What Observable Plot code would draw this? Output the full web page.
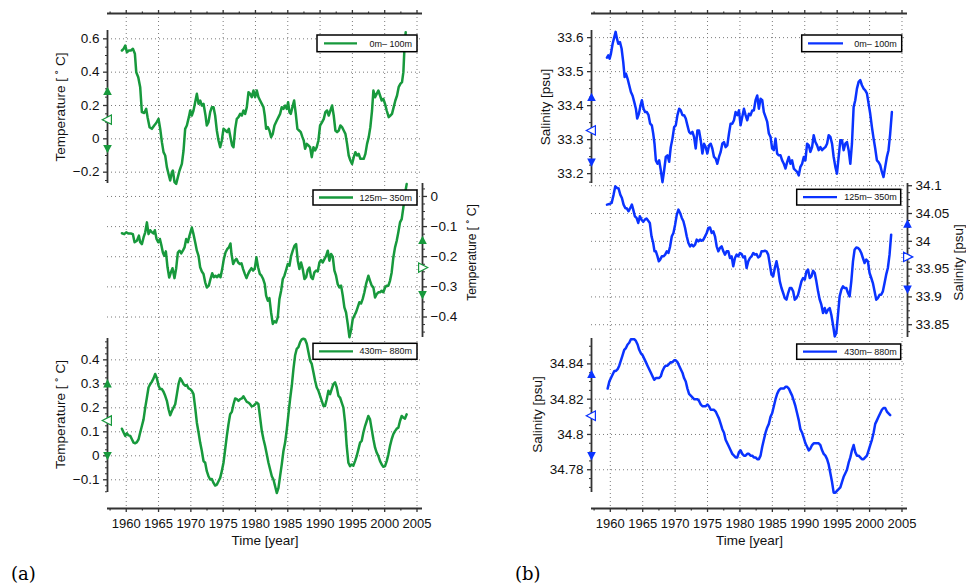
<!DOCTYPE html>
<html><head><meta charset="utf-8">
<script src="https://cdn.jsdelivr.net/npm/d3@7"></script>
<script src="https://cdn.jsdelivr.net/npm/@observablehq/plot@0.6"></script>
<style>
html,body{margin:0;padding:0;background:#fff;}
#fig{position:relative;width:966px;height:587px;overflow:hidden;background:#fff;font-family:"Liberation Sans",Arial,sans-serif;}
.tag{position:absolute;font-family:"DejaVu Serif","Liberation Serif",serif;font-size:18px;line-height:21px;color:#000;}
</style></head>
<body><div id="fig"></div>
<script>
// ---------------- data ----------------
const yearTicks = [1960,1965,1970,1975,1980,1985,1990,1995,2000,2005];
const yearMinor = [1957.5,1962.5,1967.5,1972.5,1977.5,1982.5,1987.5,1992.5,1997.5,2002.5];

const tempTicks0 = [-0.2,0,0.2,0.4,0.6];
const tempTicks1 = [-0.4,-0.3,-0.2,-0.1,0];
const tempTicks2 = [-0.1,0,0.1,0.2,0.3,0.4];
const salTicks0 = [33.2,33.3,33.4,33.5,33.6];
const salTicks1 = [33.85,33.9,33.95,34,34.05,34.1];
const salTicks2 = [34.78,34.8,34.82,34.84];

// markers: [mean+std, mean, mean-std]
const tempStats0 = [0.284,0.115,-0.058];
const tempStats1 = [-0.146,-0.236,-0.326];
const tempStats2 = [0.30,0.147,0.001];
const salStats0 = [33.424,33.327,33.234];
const salStats1 = [34.031,33.972,33.914];
const salStats2 = [34.834,34.8106,34.788];

const legendLabels = ["0m\u2013 100m","125m\u2013 350m","430m\u2013 880m"];

// Temperature 0-100 m
const temp0 = [[1959.33,0.53],[1959.59,0.54],[1959.85,0.56],[1960.10,0.52],[1960.41,0.53],[1960.72,0.53],[1961.03,0.54],[1961.34,0.51],[1961.55,0.40],[1961.86,0.37],[1962.16,0.31],[1962.42,0.16],[1962.78,0.155],[1963.09,0.18],[1963.30,0.13],[1963.61,0.07],[1963.97,0.06],[1964.33,0.08],[1964.64,0.095],[1965.00,0.12],[1965.26,0.06],[1965.52,-0.02],[1965.77,-0.08],[1966.03,-0.10],[1966.29,-0.17],[1966.60,-0.22],[1966.80,-0.25],[1967.06,-0.20],[1967.22,-0.19],[1967.47,-0.26],[1967.73,-0.27],[1967.99,-0.23],[1968.25,-0.19],[1968.61,-0.15],[1968.87,-0.07],[1969.12,0.06],[1969.38,0.08],[1969.69,0.13],[1969.90,0.17],[1970.15,0.14],[1970.41,0.17],[1970.67,0.22],[1970.93,0.27],[1971.19,0.21],[1971.44,0.23],[1971.70,0.20],[1971.96,0.21],[1972.27,0.14],[1972.47,0.08],[1972.73,0.10],[1972.99,0.16],[1973.25,0.19],[1973.51,0.19],[1973.76,0.14],[1974.02,0.05],[1974.28,-0.01],[1974.54,-0.05],[1974.79,-0.01],[1975.05,0.06],[1975.36,0.05],[1975.62,0.04],[1975.88,0.06],[1976.13,0.01],[1976.39,-0.04],[1976.60,-0.05],[1976.86,0.06],[1977.11,0.12],[1977.37,0.13],[1977.63,0.15],[1977.89,0.14],[1978.14,0.17],[1978.40,0.15],[1978.66,0.19],[1978.92,0.28],[1979.18,0.27],[1979.43,0.25],[1979.69,0.29],[1979.95,0.25],[1980.21,0.29],[1980.46,0.25],[1980.72,0.23],[1980.98,0.21],[1981.24,0.19],[1981.44,0.14],[1981.65,0.06],[1981.91,0.07],[1982.16,0.05],[1982.42,0.01],[1982.68,0.03],[1982.94,0.08],[1983.30,0.11],[1983.56,0.13],[1983.81,0.15],[1984.07,0.19],[1984.33,0.18],[1984.59,0.20],[1984.85,0.18],[1985.05,0.22],[1985.26,0.16],[1985.46,0.15],[1985.72,0.19],[1985.98,0.23],[1986.24,0.15],[1986.49,0.06],[1986.75,0.05],[1987.01,0.04],[1987.27,0.01],[1987.47,-0.01],[1987.68,-0.06],[1987.94,-0.03],[1988.20,-0.04],[1988.45,-0.05],[1988.71,-0.11],[1988.97,-0.05],[1989.23,-0.07],[1989.48,-0.05],[1989.74,-0.01],[1990.00,0.08],[1990.31,0.10],[1990.57,0.12],[1990.82,0.16],[1991.08,0.17],[1991.34,0.14],[1991.60,0.17],[1991.86,0.20],[1992.11,0.14],[1992.37,0.05],[1992.63,0.04],[1992.89,0.05],[1993.14,0.08],[1993.40,0.07],[1993.66,0.05],[1993.92,0.03],[1994.18,-0.03],[1994.43,-0.10],[1994.69,-0.13],[1994.95,-0.15],[1995.21,-0.11],[1995.46,-0.08],[1995.72,-0.10],[1995.98,-0.09],[1996.24,-0.12],[1996.49,-0.12],[1996.75,-0.12],[1997.01,-0.09],[1997.27,-0.03],[1997.53,0.01],[1997.78,0.07],[1998.04,0.17],[1998.25,0.29],[1998.51,0.25],[1998.76,0.27],[1999.02,0.29],[1999.28,0.26],[1999.54,0.23],[1999.79,0.24],[2000.05,0.21],[2000.31,0.17],[2000.62,0.13],[2000.88,0.14],[2001.13,0.15],[2001.39,0.19],[2001.65,0.23],[2001.91,0.26],[2002.16,0.31],[2002.42,0.33],[2002.68,0.34],[2002.89,0.40],[2003.04,0.53],[2003.25,0.64]];

// Temperature 125-350 m
const temp1 = [[1959.33,-0.122],[1959.69,-0.125],[1960.00,-0.119],[1960.36,-0.123],[1960.72,-0.123],[1961.03,-0.125],[1961.29,-0.152],[1961.65,-0.147],[1961.96,-0.130],[1962.16,-0.152],[1962.42,-0.158],[1962.68,-0.136],[1962.94,-0.119],[1963.20,-0.086],[1963.45,-0.125],[1963.71,-0.112],[1963.97,-0.119],[1964.23,-0.123],[1964.43,-0.112],[1964.69,-0.141],[1964.95,-0.152],[1965.21,-0.141],[1965.46,-0.164],[1965.67,-0.186],[1965.88,-0.197],[1966.13,-0.182],[1966.39,-0.235],[1966.65,-0.269],[1966.91,-0.252],[1967.16,-0.238],[1967.47,-0.271],[1967.73,-0.238],[1967.99,-0.186],[1968.25,-0.180],[1968.51,-0.189],[1968.76,-0.180],[1969.02,-0.169],[1969.28,-0.141],[1969.54,-0.152],[1969.79,-0.130],[1970.15,-0.103],[1970.41,-0.125],[1970.67,-0.152],[1970.93,-0.180],[1971.19,-0.197],[1971.44,-0.235],[1971.70,-0.249],[1971.96,-0.257],[1972.22,-0.285],[1972.47,-0.302],[1972.78,-0.296],[1973.04,-0.274],[1973.30,-0.255],[1973.56,-0.268],[1973.81,-0.263],[1974.07,-0.268],[1974.33,-0.260],[1974.59,-0.268],[1974.85,-0.241],[1975.10,-0.208],[1975.36,-0.186],[1975.62,-0.175],[1975.88,-0.169],[1976.13,-0.156],[1976.29,-0.191],[1976.55,-0.224],[1976.80,-0.213],[1977.06,-0.207],[1977.32,-0.219],[1977.58,-0.224],[1977.84,-0.222],[1978.09,-0.241],[1978.35,-0.257],[1978.61,-0.271],[1978.87,-0.257],[1979.12,-0.246],[1979.38,-0.238],[1979.64,-0.246],[1979.90,-0.238],[1980.15,-0.202],[1980.41,-0.235],[1980.67,-0.257],[1980.93,-0.263],[1981.19,-0.274],[1981.44,-0.291],[1981.65,-0.329],[1981.91,-0.346],[1982.16,-0.337],[1982.42,-0.385],[1982.68,-0.423],[1982.94,-0.414],[1983.20,-0.418],[1983.45,-0.401],[1983.71,-0.340],[1983.97,-0.313],[1984.23,-0.274],[1984.48,-0.263],[1984.74,-0.244],[1985.00,-0.224],[1985.26,-0.230],[1985.52,-0.197],[1985.77,-0.180],[1986.03,-0.164],[1986.29,-0.158],[1986.55,-0.213],[1986.80,-0.241],[1987.06,-0.219],[1987.32,-0.241],[1987.58,-0.274],[1987.84,-0.268],[1988.09,-0.244],[1988.35,-0.236],[1988.61,-0.268],[1988.87,-0.274],[1989.12,-0.252],[1989.38,-0.246],[1989.64,-0.249],[1989.90,-0.219],[1990.15,-0.211],[1990.41,-0.219],[1990.67,-0.208],[1990.93,-0.197],[1991.19,-0.180],[1991.44,-0.213],[1991.70,-0.191],[1991.96,-0.200],[1992.22,-0.246],[1992.47,-0.263],[1992.73,-0.291],[1992.99,-0.302],[1993.25,-0.296],[1993.51,-0.329],[1993.76,-0.368],[1994.02,-0.385],[1994.28,-0.423],[1994.54,-0.467],[1994.79,-0.445],[1995.05,-0.407],[1995.31,-0.395],[1995.57,-0.384],[1995.82,-0.368],[1996.08,-0.351],[1996.34,-0.355],[1996.60,-0.340],[1996.86,-0.318],[1997.11,-0.291],[1997.47,-0.263],[1997.73,-0.280],[1997.99,-0.296],[1998.25,-0.302],[1998.51,-0.335],[1998.76,-0.324],[1999.02,-0.318],[1999.28,-0.318],[1999.54,-0.313],[1999.79,-0.318],[2000.05,-0.302],[2000.31,-0.296],[2000.57,-0.296],[2000.82,-0.280],[2001.08,-0.252],[2001.34,-0.202],[2001.60,-0.169],[2001.86,-0.147],[2002.11,-0.119],[2002.37,-0.086],[2002.63,-0.075],[2002.89,-0.036],[2003.14,0.008],[2003.40,0.041]];

// Temperature 430-880 m
const temp2 = [[1959.33,0.113],[1959.59,0.097],[1959.85,0.083],[1960.10,0.094],[1960.36,0.085],[1960.62,0.083],[1960.88,0.069],[1961.13,0.055],[1961.39,0.052],[1961.65,0.057],[1961.91,0.069],[1962.16,0.097],[1962.42,0.124],[1962.68,0.152],[1962.94,0.201],[1963.20,0.243],[1963.45,0.285],[1963.71,0.299],[1963.97,0.309],[1964.23,0.323],[1964.48,0.341],[1964.74,0.323],[1965.00,0.292],[1965.26,0.278],[1965.52,0.278],[1965.77,0.267],[1966.03,0.250],[1966.29,0.229],[1966.55,0.194],[1966.80,0.169],[1967.06,0.187],[1967.32,0.201],[1967.58,0.215],[1967.84,0.257],[1968.09,0.299],[1968.35,0.323],[1968.61,0.313],[1968.87,0.299],[1969.12,0.292],[1969.38,0.295],[1969.64,0.281],[1969.90,0.278],[1970.15,0.271],[1970.41,0.257],[1970.67,0.201],[1970.93,0.138],[1971.19,0.097],[1971.44,0.055],[1971.70,0.020],[1971.96,-0.022],[1972.22,-0.029],[1972.47,-0.064],[1972.73,-0.085],[1972.99,-0.099],[1973.25,-0.097],[1973.51,-0.113],[1973.76,-0.124],[1974.02,-0.120],[1974.28,-0.106],[1974.54,-0.092],[1974.79,-0.064],[1975.05,-0.029],[1975.31,0.027],[1975.57,0.083],[1975.82,0.131],[1976.08,0.173],[1976.34,0.183],[1976.60,0.215],[1976.86,0.239],[1977.11,0.236],[1977.37,0.229],[1977.63,0.236],[1977.89,0.239],[1978.14,0.248],[1978.40,0.236],[1978.66,0.225],[1978.92,0.222],[1979.18,0.215],[1979.43,0.206],[1979.69,0.208],[1979.95,0.215],[1980.21,0.222],[1980.46,0.215],[1980.72,0.159],[1980.98,0.103],[1981.24,0.069],[1981.49,0.041],[1981.75,0.006],[1982.01,-0.029],[1982.27,-0.057],[1982.53,-0.085],[1982.78,-0.099],[1983.04,-0.127],[1983.30,-0.155],[1983.56,-0.134],[1983.81,-0.085],[1984.07,-0.036],[1984.33,0.020],[1984.59,0.055],[1984.85,0.110],[1985.10,0.173],[1985.36,0.236],[1985.62,0.292],[1985.88,0.362],[1986.13,0.418],[1986.39,0.446],[1986.65,0.453],[1986.91,0.474],[1987.16,0.485],[1987.42,0.488],[1987.68,0.485],[1987.94,0.467],[1988.20,0.432],[1988.45,0.397],[1988.71,0.383],[1988.97,0.348],[1989.23,0.313],[1989.48,0.285],[1989.74,0.271],[1990.00,0.250],[1990.26,0.229],[1990.52,0.208],[1990.77,0.208],[1991.03,0.236],[1991.29,0.271],[1991.55,0.257],[1991.80,0.278],[1992.06,0.299],[1992.32,0.306],[1992.58,0.285],[1992.84,0.250],[1993.09,0.243],[1993.35,0.222],[1993.61,0.201],[1993.87,0.138],[1994.12,0.041],[1994.38,-0.029],[1994.64,-0.043],[1994.90,-0.036],[1995.15,-0.041],[1995.41,-0.022],[1995.67,-0.001],[1995.93,0.027],[1996.19,0.055],[1996.44,0.062],[1996.70,0.097],[1996.96,0.124],[1997.22,0.145],[1997.47,0.166],[1997.73,0.152],[1997.99,0.110],[1998.25,0.069],[1998.51,0.034],[1998.76,0.013],[1999.02,-0.001],[1999.28,-0.022],[1999.54,-0.036],[1999.79,-0.046],[2000.05,-0.043],[2000.31,-0.022],[2000.57,0.006],[2000.82,0.041],[2001.08,0.069],[2001.34,0.090],[2001.60,0.103],[2001.86,0.113],[2002.11,0.117],[2002.37,0.145],[2002.63,0.166],[2002.89,0.159],[2003.14,0.155],[2003.40,0.173]];

// Salinity 0-100 m
const sal0 = [[1959.49,33.541],[1959.69,33.548],[1959.90,33.538],[1960.10,33.553],[1960.36,33.582],[1960.62,33.602],[1960.82,33.617],[1961.03,33.597],[1961.23,33.582],[1961.49,33.587],[1961.74,33.568],[1962.00,33.528],[1962.21,33.484],[1962.41,33.494],[1962.67,33.479],[1962.92,33.460],[1963.18,33.440],[1963.44,33.429],[1963.69,33.411],[1963.95,33.391],[1964.15,33.362],[1964.41,33.376],[1964.67,33.401],[1964.87,33.416],[1965.13,33.391],[1965.38,33.381],[1965.64,33.381],[1965.90,33.372],[1966.15,33.347],[1966.41,33.342],[1966.62,33.318],[1966.82,33.288],[1967.03,33.239],[1967.28,33.229],[1967.54,33.239],[1967.79,33.210],[1968.05,33.175],[1968.31,33.210],[1968.56,33.249],[1968.82,33.254],[1969.08,33.235],[1969.33,33.278],[1969.59,33.303],[1969.85,33.337],[1970.10,33.342],[1970.36,33.372],[1970.62,33.391],[1970.87,33.386],[1971.13,33.372],[1971.38,33.372],[1971.64,33.362],[1971.90,33.342],[1972.15,33.323],[1972.41,33.318],[1972.67,33.323],[1972.92,33.308],[1973.18,33.274],[1973.44,33.327],[1973.69,33.327],[1973.95,33.298],[1974.21,33.259],[1974.46,33.288],[1974.72,33.278],[1974.97,33.259],[1975.23,33.283],[1975.49,33.288],[1975.74,33.274],[1976.00,33.249],[1976.26,33.244],[1976.51,33.229],[1976.77,33.249],[1977.03,33.264],[1977.28,33.288],[1977.54,33.293],[1977.79,33.278],[1978.05,33.283],[1978.31,33.318],[1978.56,33.347],[1978.82,33.347],[1979.08,33.357],[1979.33,33.381],[1979.59,33.372],[1979.85,33.386],[1980.10,33.342],[1980.36,33.367],[1980.62,33.391],[1980.87,33.372],[1981.13,33.357],[1981.38,33.376],[1981.64,33.372],[1981.90,33.386],[1982.15,33.386],[1982.41,33.416],[1982.67,33.430],[1982.92,33.391],[1983.18,33.420],[1983.44,33.416],[1983.69,33.381],[1983.95,33.367],[1984.21,33.352],[1984.46,33.318],[1984.72,33.308],[1984.97,33.274],[1985.23,33.269],[1985.49,33.303],[1985.74,33.259],[1986.00,33.254],[1986.26,33.254],[1986.51,33.239],[1986.77,33.229],[1987.03,33.215],[1987.28,33.234],[1987.54,33.249],[1987.79,33.229],[1988.05,33.239],[1988.31,33.215],[1988.56,33.210],[1988.82,33.205],[1989.08,33.195],[1989.33,33.220],[1989.59,33.229],[1989.85,33.249],[1990.10,33.239],[1990.36,33.288],[1990.62,33.283],[1990.87,33.264],[1991.13,33.278],[1991.38,33.313],[1991.64,33.293],[1991.90,33.283],[1992.15,33.269],[1992.41,33.278],[1992.67,33.269],[1992.92,33.274],[1993.18,33.278],[1993.44,33.288],[1993.69,33.313],[1993.95,33.308],[1994.21,33.288],[1994.46,33.249],[1994.72,33.220],[1994.97,33.200],[1995.23,33.249],[1995.49,33.298],[1995.74,33.298],[1996.00,33.269],[1996.26,33.288],[1996.51,33.293],[1996.77,33.269],[1997.03,33.229],[1997.28,33.288],[1997.54,33.396],[1997.79,33.416],[1998.05,33.450],[1998.31,33.470],[1998.56,33.475],[1998.82,33.460],[1999.08,33.450],[1999.33,33.445],[1999.59,33.436],[1999.85,33.406],[2000.10,33.376],[2000.36,33.337],[2000.62,33.303],[2000.87,33.274],[2001.13,33.239],[2001.38,33.234],[2001.64,33.225],[2001.90,33.205],[2002.15,33.190],[2002.41,33.220],[2002.67,33.249],[2002.92,33.269],[2003.18,33.318],[2003.44,33.381]];

// Salinity 125-350 m
const sal1 = [[1959.49,34.066],[1959.85,34.067],[1960.21,34.069],[1960.51,34.084],[1960.77,34.099],[1961.03,34.096],[1961.28,34.095],[1961.54,34.084],[1961.79,34.078],[1962.05,34.066],[1962.31,34.060],[1962.56,34.059],[1962.82,34.054],[1963.08,34.060],[1963.33,34.066],[1963.54,34.057],[1963.79,34.045],[1964.05,34.042],[1964.31,34.033],[1964.56,34.045],[1964.82,34.039],[1965.08,34.035],[1965.33,34.039],[1965.59,34.041],[1965.85,34.037],[1966.10,34.033],[1966.36,34.009],[1966.62,33.997],[1966.82,33.982],[1967.03,33.982],[1967.28,33.973],[1967.49,33.964],[1967.69,33.967],[1967.95,33.973],[1968.21,33.973],[1968.46,33.976],[1968.72,33.982],[1968.97,33.979],[1969.23,33.991],[1969.49,34.009],[1969.74,34.015],[1970.00,34.030],[1970.26,34.048],[1970.51,34.057],[1970.77,34.051],[1971.03,34.042],[1971.28,34.036],[1971.54,34.024],[1971.79,34.009],[1972.05,33.997],[1972.31,33.991],[1972.56,33.994],[1972.82,33.991],[1973.08,33.994],[1973.33,34.003],[1973.59,34.000],[1973.85,34.003],[1974.10,34.001],[1974.36,34.003],[1974.62,34.009],[1974.87,34.015],[1975.13,34.024],[1975.38,34.025],[1975.64,34.015],[1975.90,34.018],[1976.15,34.009],[1976.41,33.991],[1976.67,33.982],[1976.92,33.988],[1977.18,33.991],[1977.44,33.982],[1977.69,33.976],[1977.95,33.982],[1978.21,33.982],[1978.46,33.970],[1978.72,33.973],[1978.97,33.955],[1979.23,33.970],[1979.49,33.976],[1979.74,33.973],[1980.00,33.979],[1980.26,33.977],[1980.51,33.971],[1980.77,33.973],[1981.03,33.952],[1981.28,33.964],[1981.54,33.970],[1981.79,33.973],[1982.05,33.979],[1982.31,33.976],[1982.56,33.977],[1982.82,33.971],[1983.08,33.973],[1983.33,33.982],[1983.59,33.982],[1983.85,33.983],[1984.10,33.982],[1984.36,33.976],[1984.62,33.958],[1984.87,33.940],[1985.13,33.937],[1985.38,33.952],[1985.64,33.964],[1985.90,33.949],[1986.15,33.928],[1986.41,33.916],[1986.67,33.907],[1986.92,33.898],[1987.18,33.895],[1987.44,33.907],[1987.69,33.916],[1987.95,33.916],[1988.21,33.910],[1988.46,33.895],[1988.72,33.898],[1988.97,33.904],[1989.23,33.916],[1989.49,33.928],[1989.74,33.934],[1990.00,33.931],[1990.26,33.946],[1990.51,33.949],[1990.77,33.934],[1991.03,33.937],[1991.28,33.947],[1991.54,33.943],[1991.79,33.928],[1992.05,33.910],[1992.31,33.895],[1992.56,33.886],[1992.82,33.871],[1993.08,33.880],[1993.33,33.871],[1993.59,33.877],[1993.85,33.880],[1994.10,33.868],[1994.36,33.850],[1994.62,33.829],[1994.87,33.835],[1995.13,33.868],[1995.38,33.901],[1995.64,33.913],[1995.90,33.919],[1996.15,33.916],[1996.41,33.916],[1996.67,33.907],[1996.92,33.901],[1997.18,33.928],[1997.44,33.964],[1997.69,33.985],[1997.95,33.989],[1998.21,33.988],[1998.46,33.985],[1998.72,33.979],[1998.97,33.970],[1999.23,33.961],[1999.49,33.967],[1999.74,33.964],[2000.00,33.943],[2000.26,33.934],[2000.51,33.925],[2000.77,33.910],[2001.03,33.895],[2001.28,33.898],[2001.54,33.904],[2001.79,33.904],[2002.05,33.910],[2002.31,33.925],[2002.56,33.940],[2002.82,33.952],[2003.08,33.976],[2003.33,34.012]];

// Salinity 430-880 m
const sal2 = [[1959.59,34.826],[1959.85,34.830],[1960.10,34.832],[1960.36,34.834],[1960.62,34.836],[1960.87,34.836],[1961.13,34.837],[1961.38,34.839],[1961.64,34.842],[1961.90,34.845],[1962.15,34.848],[1962.41,34.849],[1962.67,34.851],[1962.92,34.852],[1963.18,34.854],[1963.44,34.854],[1963.69,34.854],[1963.95,34.853],[1964.21,34.851],[1964.46,34.848],[1964.72,34.846],[1964.97,34.845],[1965.23,34.843],[1965.49,34.841],[1965.74,34.839],[1966.00,34.837],[1966.26,34.835],[1966.51,34.833],[1966.77,34.831],[1967.03,34.832],[1967.28,34.832],[1967.54,34.832],[1967.79,34.833],[1968.05,34.836],[1968.31,34.838],[1968.56,34.839],[1968.82,34.839],[1969.08,34.840],[1969.33,34.841],[1969.59,34.841],[1969.85,34.842],[1970.10,34.842],[1970.36,34.841],[1970.62,34.839],[1970.87,34.837],[1971.13,34.835],[1971.38,34.832],[1971.64,34.830],[1971.90,34.826],[1972.15,34.823],[1972.41,34.822],[1972.67,34.821],[1972.92,34.820],[1973.18,34.820],[1973.44,34.820],[1973.69,34.819],[1973.95,34.817],[1974.21,34.816],[1974.46,34.816],[1974.72,34.816],[1974.97,34.817],[1975.23,34.816],[1975.49,34.814],[1975.74,34.814],[1976.00,34.814],[1976.26,34.813],[1976.51,34.811],[1976.77,34.809],[1977.03,34.806],[1977.28,34.803],[1977.54,34.801],[1977.79,34.797],[1978.05,34.795],[1978.31,34.793],[1978.56,34.791],[1978.82,34.789],[1979.08,34.788],[1979.33,34.787],[1979.59,34.787],[1979.85,34.790],[1980.10,34.791],[1980.36,34.789],[1980.62,34.788],[1980.87,34.788],[1981.13,34.789],[1981.38,34.789],[1981.64,34.788],[1981.90,34.788],[1982.15,34.787],[1982.41,34.787],[1982.67,34.786],[1982.92,34.786],[1983.18,34.788],[1983.44,34.793],[1983.69,34.797],[1983.95,34.801],[1984.21,34.804],[1984.46,34.806],[1984.72,34.810],[1984.97,34.812],[1985.23,34.816],[1985.49,34.820],[1985.74,34.823],[1986.00,34.825],[1986.26,34.826],[1986.51,34.826],[1986.77,34.826],[1987.03,34.827],[1987.28,34.827],[1987.54,34.826],[1987.79,34.824],[1988.05,34.822],[1988.31,34.819],[1988.56,34.816],[1988.82,34.812],[1989.08,34.808],[1989.33,34.803],[1989.59,34.801],[1989.85,34.798],[1990.10,34.795],[1990.36,34.793],[1990.62,34.791],[1990.87,34.792],[1991.13,34.794],[1991.38,34.795],[1991.64,34.795],[1991.90,34.795],[1992.15,34.795],[1992.41,34.794],[1992.67,34.791],[1992.92,34.789],[1993.18,34.788],[1993.44,34.786],[1993.69,34.783],[1993.95,34.778],[1994.21,34.773],[1994.46,34.767],[1994.72,34.767],[1994.97,34.768],[1995.23,34.769],[1995.49,34.770],[1995.74,34.773],[1996.00,34.776],[1996.26,34.778],[1996.51,34.780],[1996.77,34.784],[1997.03,34.787],[1997.28,34.791],[1997.54,34.794],[1997.79,34.790],[1998.05,34.788],[1998.31,34.788],[1998.56,34.787],[1998.82,34.786],[1999.08,34.786],[1999.33,34.787],[1999.59,34.788],[1999.85,34.791],[2000.10,34.794],[2000.36,34.797],[2000.62,34.801],[2000.87,34.806],[2001.13,34.808],[2001.38,34.810],[2001.64,34.812],[2001.90,34.814],[2002.15,34.815],[2002.41,34.815],[2002.67,34.813],[2002.92,34.812],[2003.18,34.811]];

// ---------------- layout ----------------
const W = 966, H = 587;
const GREEN = "#17993c", BLUE = "#0a33ff";
const AXIS = "#333", GRID = "#7a7a7a", FONT = "Liberation Sans, Arial, Helvetica, sans-serif";
const xDomain = [1957.1, 2005.85];
const tempLabel = "Temperature [ \u02DA C]";
const salLabel = "Salinity [psu]";

const columns = [
  {left: 107, right: 422, tag: "(a)", tagX: 11},
  {left: 591, right: 907, tag: "(b)", tagX: 515}
];

const panels = [
  {col: 0, top: 30, bottom: 183, data: temp0, color: GREEN, domain: [-0.268, 0.65], ticks: tempTicks0, side: "left", stats: tempStats0, label: tempLabel, labelDx: -47, labelDy: 0, labelSize: 13.5,
   legend: {text: legendLabels[0], x1: 317, x2: 417, y1: 35, y2: 51.7, l1: 324, l2: 357, tx: 412}},
  {col: 0, top: 183, bottom: 337, data: temp1, color: GREEN, domain: [-0.468, 0.043], ticks: tempTicks1, side: "right", stats: tempStats1, label: tempLabel, labelDx: 50, labelDy: -8, labelSize: 12,
   legend: {text: legendLabels[1], x1: 313, x2: 417, y1: 190, y2: 205, l1: 319, l2: 353, tx: 412}},
  {col: 0, top: 338, bottom: 492, data: temp2, color: GREEN, domain: [-0.153, 0.489], ticks: tempTicks2, side: "left", stats: tempStats2, label: tempLabel, labelDx: -47, labelDy: -1, labelSize: 13.5,
   legend: {text: legendLabels[2], x1: 313, x2: 417, y1: 343.3, y2: 359.3, l1: 319, l2: 353, tx: 412}},
  {col: 1, top: 30, bottom: 183, data: sal0, color: BLUE, domain: [33.171, 33.621], ticks: salTicks0, side: "left", stats: salStats0, label: salLabel, labelDx: -46, labelDy: 0, labelSize: 13.5,
   legend: {text: legendLabels[0], x1: 801.7, x2: 901.7, y1: 35, y2: 51.7, l1: 808, l2: 843, tx: 896.7}},
  {col: 1, top: 183, bottom: 337, data: sal1, color: BLUE, domain: [33.827, 34.104], ticks: salTicks1, side: "right", stats: salStats1, label: salLabel, labelDx: 51, labelDy: 2, labelSize: 13.5,
   legend: {text: legendLabels[1], x1: 796.7, x2: 900.7, y1: 189.3, y2: 205, l1: 803, l2: 837, tx: 896.7}},
  {col: 1, top: 338, bottom: 492, data: sal2, color: BLUE, domain: [34.7671, 34.8544], ticks: salTicks2, side: "left", stats: salStats2, label: salLabel, labelDx: -54, labelDy: -1, labelSize: 13.5,
   legend: {text: legendLabels[2], x1: 796.7, x2: 900.7, y1: 344, y2: 359.3, l1: 803, l2: 837, tx: 896.7}}
];

const fmt = d => (d < 0 ? "\u2212" : "") + String(+Math.abs(d).toFixed(3));

// custom triangle symbols (size = pi r^2)
function tri(dir) {
  return {draw(ctx, size) {
    const r = Math.sqrt(size / Math.PI);
    const a = r, b = r * 0.9, c = r * 0.75;
    if (dir === "up") { ctx.moveTo(0, -a); ctx.lineTo(b, c); ctx.lineTo(-b, c); }
    else if (dir === "down") { ctx.moveTo(0, a); ctx.lineTo(b, -c); ctx.lineTo(-b, -c); }
    else if (dir === "left") { ctx.moveTo(-a, 0); ctx.lineTo(c, -b); ctx.lineTo(c, b); }
    else { ctx.moveTo(a, 0); ctx.lineTo(-c, -b); ctx.lineTo(-c, b); }
    ctx.closePath();
  }};
}

const fig = document.getElementById("fig");
function place(el) {
  el.style.position = "absolute"; el.style.left = "0px"; el.style.top = "0px";
  fig.appendChild(el);
}

const common = {width: W, height: H, style: {background: "transparent", overflow: "visible", fontFamily: FONT, fontSize: "13px", color: "#111"}};

// column frames: vertical grid, top and bottom x axes
columns.forEach(c => {
  const p = Plot.plot({
    ...common,
    marginLeft: c.left, marginRight: W - c.right, marginTop: 13, marginBottom: H - 508,
    x: {domain: xDomain, axis: null},
    y: {domain: [0, 1], axis: null},
    marks: [
      Plot.gridX(yearTicks, {stroke: GRID, strokeOpacity: 1, strokeWidth: 1, strokeDasharray: "1,3"}),
      Plot.ruleY([0, 1], {stroke: AXIS, strokeWidth: 1.8}),
      Plot.axisX(yearTicks, {anchor: "top", tickSize: 4, tickFormat: () => "", label: null, stroke: AXIS, strokeWidth: 1.3}),
      Plot.axisX(yearMinor, {anchor: "top", tickSize: 2.5, tickFormat: () => "", label: null, stroke: AXIS, strokeWidth: 1.2}),
      Plot.axisX(yearTicks, {anchor: "bottom", tickSize: 4, tickPadding: 6, tickFormat: d => String(d), label: null, fontSize: 13, stroke: AXIS, strokeWidth: 1.3}),
      Plot.axisX(yearMinor, {anchor: "bottom", tickSize: 2.5, tickFormat: () => "", label: null, stroke: AXIS, strokeWidth: 1.2}),
      Plot.text(["Time [year]"], {text: d => d, frameAnchor: "bottom", dy: 32, lineAnchor: "middle", textAnchor: "middle", fontSize: 13.5, fill: "#111"})
    ]
  });
  place(p);
});

// panels
panels.forEach(pn => {
  const c = columns[pn.col];
  const step = pn.ticks[1] - pn.ticks[0];
  const minor = [];
  for (let i = 0; i < pn.ticks.length + 1; i++) {
    for (let k = 1; k < 4; k++) {
      const v = pn.ticks[0] + (i - 1) * step + k * step / 4;
      if (v >= pn.domain[0] && v <= pn.domain[1]) minor.push(v);
    }
  }
  const edge = pn.side === "left" ? xDomain[0] : xDomain[1];
  const markers = [
    {v: pn.stats[0], s: tri("up"), filled: true},
    {v: pn.stats[1], s: tri(pn.side), filled: false},
    {v: pn.stats[2], s: tri("down"), filled: true}
  ];
  const p = Plot.plot({
    ...common,
    marginLeft: c.left, marginRight: W - c.right, marginTop: pn.top, marginBottom: H - pn.bottom,
    x: {domain: xDomain, axis: null},
    y: {domain: pn.domain, axis: null},
    marks: [
      Plot.gridY(pn.ticks, {stroke: GRID, strokeOpacity: 1, strokeWidth: 1, strokeDasharray: "1,3"}),
      Plot.ruleX([edge], {stroke: AXIS, strokeWidth: 1.8}),
      Plot.axisY(minor, {anchor: pn.side, tickSize: 2, tickFormat: () => "", label: null, stroke: AXIS, strokeWidth: 1}),
      Plot.axisY(pn.ticks, {anchor: pn.side, tickSize: 4, tickPadding: 4, tickFormat: fmt, label: null, fontSize: 13.5, stroke: AXIS, strokeWidth: 1.3, fill: "#111"}),
      Plot.text([pn.label], {text: d => d, frameAnchor: pn.side, rotate: -90, dx: pn.labelDx, dy: pn.labelDy, textAnchor: "middle", lineAnchor: "middle", fontSize: pn.labelSize, fill: "#111"}),
      Plot.line(pn.data, {x: d => d[0], y: d => d[1], stroke: pn.color, strokeWidth: 2.5, strokeLinejoin: "round", strokeLinecap: "round"}),
      Plot.dot(markers.filter(m => m.filled), {x: () => edge, y: d => d.v, symbol: d => d.s, r: 4.8, fill: pn.color, stroke: "none"}),
      Plot.dot(markers.filter(m => !m.filled), {x: () => edge, y: d => d.v, symbol: d => d.s, r: 5.2, fill: "white", stroke: pn.color, strokeWidth: 1.2})
    ]
  });
  place(p);
});

// legends
panels.forEach(pn => {
  const L = pn.legend;
  const svg = d3.create("svg").attr("width", W).attr("height", H)
    .style("position", "absolute").style("left", "0px").style("top", "0px").style("overflow", "visible");
  svg.append("rect").attr("x", L.x1).attr("y", L.y1).attr("width", L.x2 - L.x1).attr("height", L.y2 - L.y1)
    .attr("fill", "white").attr("stroke", "#000").attr("stroke-width", 1.5);
  const ym = (L.y1 + L.y2) / 2;
  svg.append("line").attr("x1", L.l1).attr("x2", L.l2).attr("y1", ym).attr("y2", ym)
    .attr("stroke", pn.color).attr("stroke-width", 2.3);
  svg.append("text").attr("x", L.tx).attr("y", ym).attr("dy", "0.35em").attr("text-anchor", "end")
    .attr("font-family", FONT).attr("font-size", 9).attr("fill", "#111").text(L.text);
  fig.appendChild(svg.node());
});

// panel tags
columns.forEach(c => {
  const t = document.createElement("div");
  t.className = "tag"; t.textContent = c.tag;
  t.style.left = c.tagX + "px"; t.style.top = "563px";
  fig.appendChild(t);
});
</script>
</body></html>
